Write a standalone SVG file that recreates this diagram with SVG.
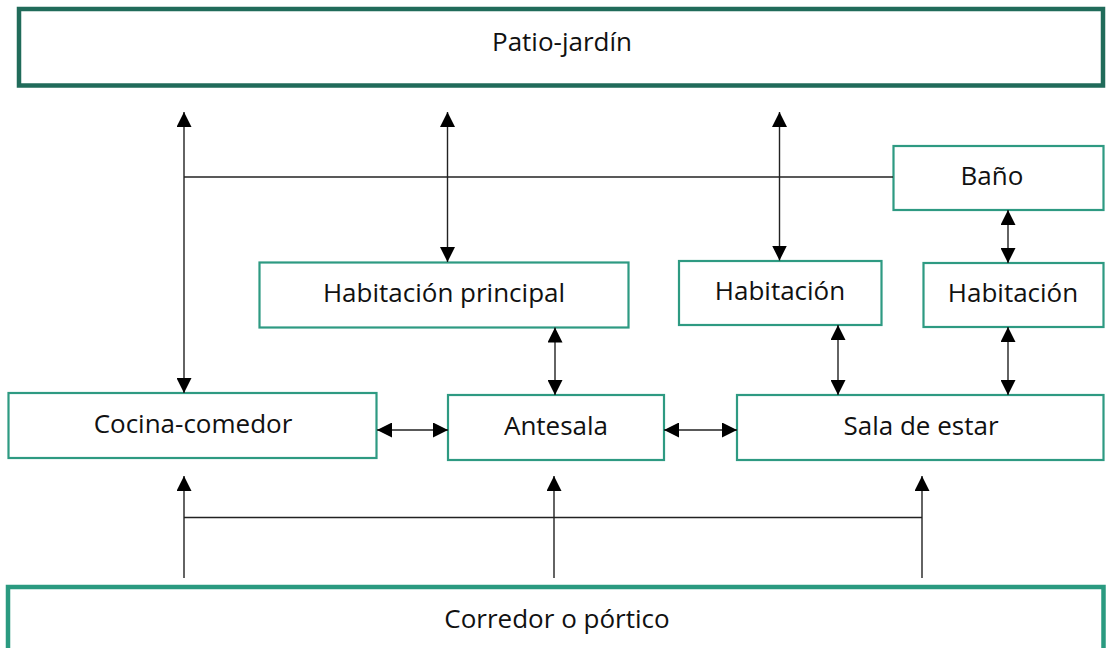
<svg xmlns="http://www.w3.org/2000/svg" width="1106" height="648" viewBox="0 0 1106 648">
<defs>
<marker id="ah" markerUnits="userSpaceOnUse" markerWidth="15" markerHeight="15" refX="15" refY="7.5" orient="auto-start-reverse" viewBox="0 0 15 15">
<path d="M0,0 L15,7.5 L0,15 z" fill="#000"/>
</marker>
<style>
.big{fill:#fff;stroke-width:4.5}
.node{fill:#fff;stroke:#2E9A82;stroke-width:2.2}
.t{font-family:"Open Sans","Noto Sans",sans-serif;font-size:26px;fill:#111;text-anchor:middle}
.c{fill:none;stroke:#222;stroke-width:1.4}
.b{marker-start:url(#ah);marker-end:url(#ah)}
.e{marker-end:url(#ah)}
</style>
</defs>
<rect width="1106" height="648" fill="#fff"/>
<g id="patio"><rect class="big" x="19" y="9" width="1084" height="76.5" stroke="#206B5A"/><text class="t" x="562" y="51">Patio-jardín</text></g>
<g id="corredor"><rect class="big" x="8" y="587" width="1095.5" height="80" stroke="#2A9A80"/><text class="t" x="557" y="628">Corredor o pórtico</text></g>
<g id="bano"><rect class="node" x="893.5" y="146" width="210" height="64"/><text class="t" x="992" y="185">Baño</text></g>
<g id="hab-principal"><rect class="node" x="259.5" y="262.5" width="369" height="65"/><text class="t" x="444" y="302">Habitación principal</text></g>
<g id="hab-1"><rect class="node" x="679" y="261" width="202.5" height="64"/><text class="t" x="780" y="300">Habitación</text></g>
<g id="hab-2"><rect class="node" x="923.5" y="263" width="180" height="64"/><text class="t" x="1013" y="302">Habitación</text></g>
<g id="cocina"><rect class="node" x="8.5" y="393" width="368" height="65"/><text class="t" x="193" y="433">Cocina-comedor</text></g>
<g id="antesala"><rect class="node" x="448" y="395" width="216" height="65"/><text class="t" x="556" y="435">Antesala</text></g>
<g id="sala"><rect class="node" x="737" y="395" width="366.5" height="65"/><text class="t" x="921" y="435">Sala de estar</text></g>
<g id="connectors">
<path class="c b" d="M184,393 V112"/>
<path class="c" d="M184,177 H893"/>
<path class="c b" d="M447.5,112 V262"/>
<path class="c b" d="M779.5,112 V260.5"/>
<path class="c b" d="M1008,210 V263"/>
<path class="c b" d="M555,327.5 V395"/>
<path class="c b" d="M838,325 V395"/>
<path class="c b" d="M1008,327 V395"/>
<path class="c b" d="M377,430 H448"/>
<path class="c b" d="M664,430 H737"/>
<path class="c e" d="M184,578 V476"/>
<path class="c e" d="M554,578 V476"/>
<path class="c e" d="M922,578 V476"/>
<path class="c" d="M184,517.5 H922"/>
</g>
</svg>
